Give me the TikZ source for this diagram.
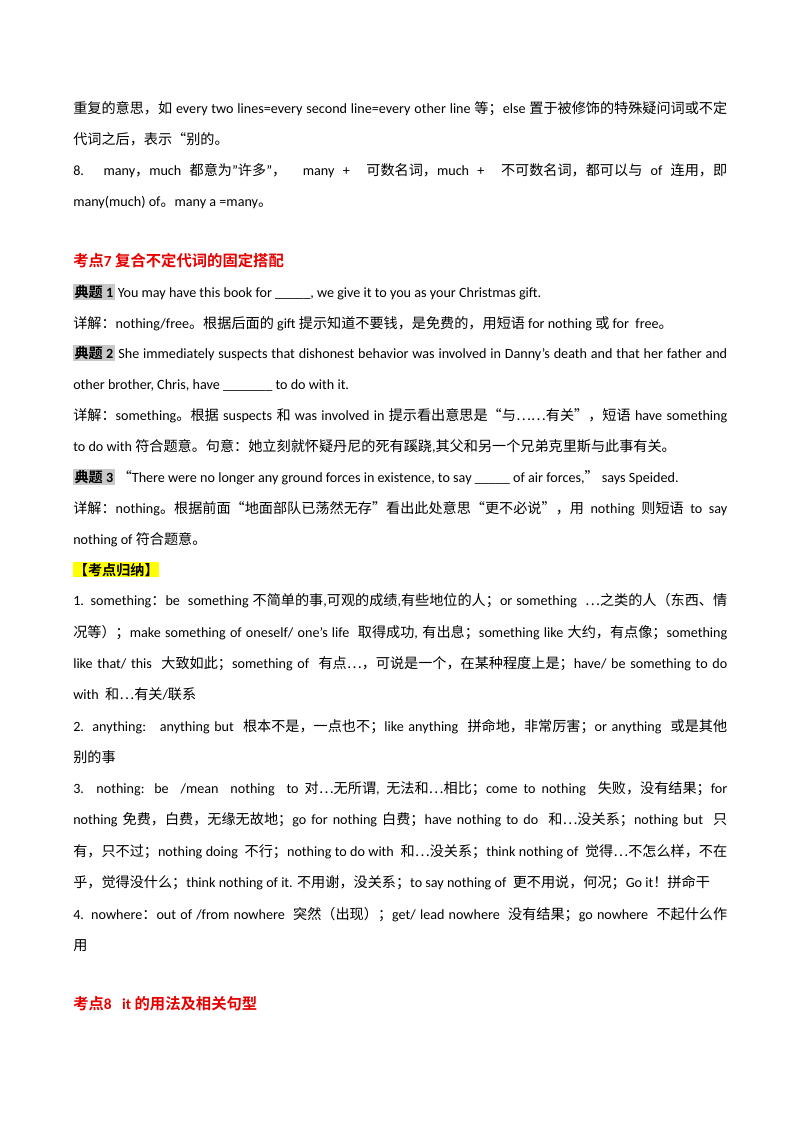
\documentclass[tikz,border=0pt]{standalone}
\usepackage{fontspec}
\setmainfont{Carlito}
\newfontfamily\cjkfam{Noto Sans CJK SC}[BoldFont={Noto Sans CJK SC Bold}]
\newcommand\mycjk{\cjkfam}
\newcommand\mylat{\rmfamily}
\XeTeXinterchartokenstate=1
\newXeTeXintercharclass\cjkclass
\count255="4E00 \loop \XeTeXcharclass\count255=\cjkclass \ifnum\count255<"9FFF \advance\count255 1 \repeat
\count255="3000 \loop \XeTeXcharclass\count255=\cjkclass \ifnum\count255<"303F \advance\count255 1 \repeat
\count255="FF00 \loop \XeTeXcharclass\count255=\cjkclass \ifnum\count255<"FFEF \advance\count255 1 \repeat
\XeTeXcharclass"201C=\cjkclass \XeTeXcharclass"201D=\cjkclass \XeTeXcharclass"2026=\cjkclass
\XeTeXinterchartoks 0 \cjkclass={\mycjk}
\XeTeXinterchartoks 4095 \cjkclass={\mycjk}
\XeTeXinterchartoks \cjkclass 0={\mylat}
\XeTeXinterchartoks \cjkclass 4095={\mylat}
\definecolor{hred}{RGB}{230,0,0}
\definecolor{tgray}{RGB}{200,200,200}
\definecolor{hyel}{RGB}{255,255,0}
\tikzset{
 ln/.style={anchor=base west, inner sep=0pt, font=\fontsize{10.6}{12}\selectfont},
 head/.style={ln, font=\fontsize{11.5}{13}\selectfont\bfseries, text=hred}
}
\newcommand\fl[1]{\makebox[490.5pt][s]{#1}}
\newcommand\dt[1]{{\fboxsep=1pt\colorbox{tgray}{\bfseries 典题 #1}}}
\begin{document}
\begin{tikzpicture}[x=0.75pt,y=-0.75pt]
\useasboundingbox (0,0) rectangle (800,1132);
\node[ln] (l1) at (73,113) {\fl{重复的意思，如 every two lines=every second line=every other line 等；else 置于被修饰的特殊疑问词或不定}};
\node[ln] (l2) at (73,144) {代词之后，表示“别的。};
\node[ln] (l3) at (73,175) {\fl{8. many，much 都意为"许多"，\ \ many + \ 可数名词，much + \ 不可数名词，都可以与 of 连用，即}};
\node[ln] (l4) at (73,206) {many(much) of。many a =many。};
\node[head] (h7) at (73,266) {考点7\ 复合不定代词的固定搭配};
\node[ln] (q1) at (73,297) {\dt{1} You may have this book for \_\_\_\_\_, we give it to you as your Christmas gift.};
\node[ln] (a1) at (73,328) {详解：nothing/free。根据后面的 gift 提示知道不要钱，是免费的，用短语 for nothing 或 for\ \ free。};
\node[ln] (q2) at (73,358) {\fl{\dt{2} She immediately suspects that dishonest behavior was involved in Danny's death and that her father and}};
\node[ln] (q2b) at (73,389) {other brother, Chris, have \_\_\_\_\_\_\_ to do with it.};
\node[ln] (a2) at (73,420) {\fl{详解：something。根据 suspects 和 was involved in 提示看出意思是“与……有关”，短语 have something}};
\node[ln] (a2b) at (73,451) {to do with 符合题意。句意：她立刻就怀疑丹尼的死有蹊跷,其父和另一个兄弟克里斯与此事有关。};
\node[ln] (q3) at (73,482) {\dt{3} “There were no longer any ground forces in existence, to say \_\_\_\_\_ of air forces,” says Speided.};
\node[ln] (a3) at (73,513) {\fl{详解：nothing。根据前面“地面部队已荡然无存”看出此处意思“更不必说”，用 nothing 则短语 to say}};
\node[ln] (a3b) at (73,544) {nothing of 符合题意。};
\node[ln, font=\fontsize{10.6}{12}\selectfont\bfseries] (gn) at (73,575) {{\fboxsep=0.5pt\colorbox{hyel}{【考点归纳】}}};
\node[ln] (s1) at (73,605) {\fl{1. something：be\ \ something 不简单的事,可观的成绩,有些地位的人；or something\ \ …之类的人（东西、情}};
\node[ln] (s1b) at (73,637) {\fl{况等）；make something of oneself/ one’s life\ \ 取得成功, 有出息；something like 大约，有点像；something}};
\node[ln] (s1c) at (73,668) {\fl{like that/ this\ \ 大致如此；something of\ \ 有点…，可说是一个，在某种程度上是；have/ be something to do}};
\node[ln] (s1d) at (73,699) {with\ \ 和…有关/联系};
\node[ln] (s2) at (73,731) {\fl{2. anything:\ \ \ anything but\ \ 根本不是，一点也不；like anything\ \ 拼命地，非常厉害；or anything\ \ 或是其他}};
\node[ln] (s2b) at (73,762) {别的事};
\node[ln] (s3) at (73,793) {\fl{3. nothing: be\ \ /mean\ \ nothing\ \ to 对…无所谓, 无法和…相比；come to nothing\ \ 失败，没有结果；for}};
\node[ln] (s3b) at (73,824) {\fl{nothing 免费，白费，无缘无故地；go for nothing 白费；have nothing to do\ \ 和…没关系；nothing but\ \ 只}};
\node[ln] (s3c) at (73,856) {\fl{有，只不过；nothing doing\ \ 不行；nothing to do with\ \ 和…没关系；think nothing of\ \ 觉得…不怎么样，不在}};
\node[ln] (s3d) at (73,887) {乎，觉得没什么；think nothing of it. 不用谢，没关系；to say nothing of\ \ 更不用说，何况；Go it！拼命干};
\node[ln] (s4) at (73,919) {\fl{4. nowhere：out of /from nowhere\ \ 突然（出现）；get/ lead nowhere\ \ 没有结果；go nowhere\ \ 不起什么作}};
\node[ln] (s4b) at (73,950) {用};
\node[head] (h8) at (73,1009) {考点8\ \ \ it 的用法及相关句型};
\end{tikzpicture}
\end{document}
